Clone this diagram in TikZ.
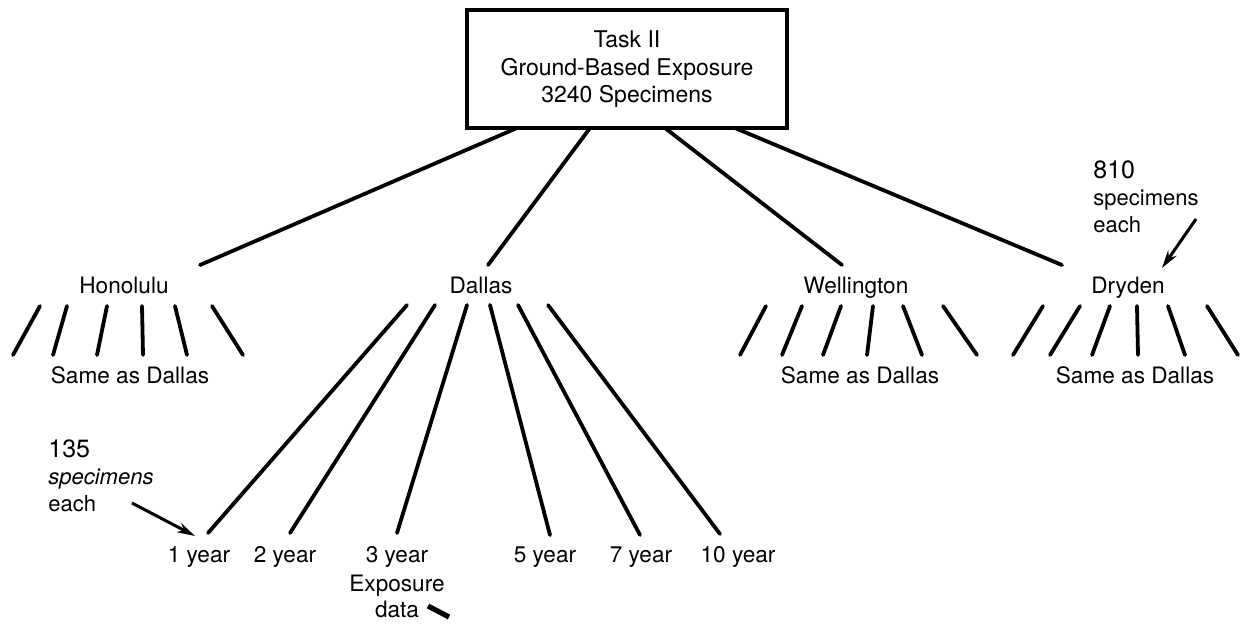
\documentclass[tikz,border=0pt]{standalone}
\usepackage{fontspec}
\setmainfont{TeX Gyre Heros}
\usetikzlibrary{arrows.meta}
\begin{document}
\begin{tikzpicture}[x=0.5pt,y=-0.5pt,
  ln/.style={line width=1.9pt, line cap=round},
  lbl/.style={inner sep=0pt, font=\fontsize{11.3}{13}\selectfont, anchor=base},
  note/.style={inner sep=0pt, font=\fontsize{11}{13}\selectfont, anchor=base west},
  arr/.style={line width=1.5pt, -{Stealth[length=9pt,width=5pt]}}]
\useasboundingbox (0,0) rectangle (1242,623);
% top box
\node[draw, line width=1.7pt, minimum width=160pt, minimum height=59pt, inner sep=0pt] (box) at (627,69) {};
\node[lbl, font=\fontsize{11.5}{14}\selectfont] (t1) at (627,47) {Task II};
\node[lbl, font=\fontsize{11.5}{14}\selectfont] (t2) at (627,75) {Ground-Based Exposure};
\node[lbl, font=\fontsize{11.5}{14}\selectfont] (t3) at (627,102) {3240 Specimens};
% sites
\node[lbl] (hon) at (124,293) {Honolulu};
\node[lbl] (dal) at (481,293) {Dallas};
\node[lbl] (wel) at (856,293) {Wellington};
\node[lbl] (dry) at (1128,293) {Dryden};
\coordinate (b1) at (517,128);
\coordinate (b2) at (590,128);
\coordinate (b3) at (665,128);
\coordinate (b4) at (735,128);
\coordinate (hontop) at (200,265);
\coordinate (daltop) at (488,265);
\coordinate (weltop) at (842,265);
\coordinate (drytop) at (1062,265);
\draw[ln] (b1) -- (hontop);
\draw[ln] (b2) -- (daltop);
\draw[ln] (b3) -- (weltop);
\draw[ln] (b4) -- (drytop);
% same as dallas
\node[lbl] (s1) at (130,383) {Same as Dallas};
\node[lbl] (s2) at (860,383) {Same as Dallas};
\node[lbl] (s3) at (1135,383) {Same as Dallas};
% short fans
\foreach \a/\b in {40/13, 67/53, 107/97, 142/143, 175/187, 212/243,
                   766/740, 802/782, 841/823, 873/867, 903/922, 943/977,
                   1043/1013, 1080/1050, 1110/1092, 1137/1138, 1168/1185, 1207/1238}
  \draw[ln] (\a,306) -- (\b,355);
% years
\node[lbl] (y1) at (199,562) {1 year};
\node[lbl] (y2) at (285,562) {2 year};
\node[lbl] (y3) at (397,562) {3 year};
\node[lbl] (y3b) at (397,591) {Exposure};
\node[lbl] (y3c) at (397,617) {data};
\node[lbl] (y5) at (545,562) {5 year};
\node[lbl] (y7) at (641,562) {7 year};
\node[lbl] (y10) at (738,562) {10 year};
\coordinate (d1) at (407,305);
\coordinate (d2) at (435,305);
\coordinate (d3) at (467,305);
\coordinate (d4) at (490,305);
\coordinate (d5) at (518,305);
\coordinate (d6) at (548,305);
\coordinate (e1) at (208,533);
\coordinate (e2) at (290,533);
\coordinate (e3) at (397,533);
\coordinate (e5) at (550,535);
\coordinate (e7) at (640,535);
\coordinate (e10) at (720,534);
\draw[ln] (d1) -- (e1);
\draw[ln] (d2) -- (e2);
\draw[ln] (d3) -- (e3);
\draw[ln] (d4) -- (e5);
\draw[ln] (d5) -- (e7);
\draw[ln] (d6) -- (e10);
% stub after data
\coordinate (st1) at (428,606);
\coordinate (st2) at (449,617);
\draw[line width=2.6pt] (st1) -- (st2);
% 135 note
\node[note, font=\fontsize{12.5}{14}\selectfont] (n1a) at (48,457) {135};
\node[note] (n1b) at (48,484) {\itshape specimens};
\node[note] (n1c) at (48,511) {each};
\coordinate (a1s) at (132,503);
\coordinate (a1e) at (195,536);
\draw[arr] (a1s) -- (a1e);
% 810 note
\node[note, font=\fontsize{12.5}{14}\selectfont] (n2a) at (1093,178) {810};
\node[note] (n2b) at (1093,205) {specimens};
\node[note] (n2c) at (1093,232) {each};
\coordinate (a2s) at (1196,219);
\coordinate (a2e) at (1162,268);
\draw[arr] (a2s) -- (a2e);
\end{tikzpicture}
\end{document}
